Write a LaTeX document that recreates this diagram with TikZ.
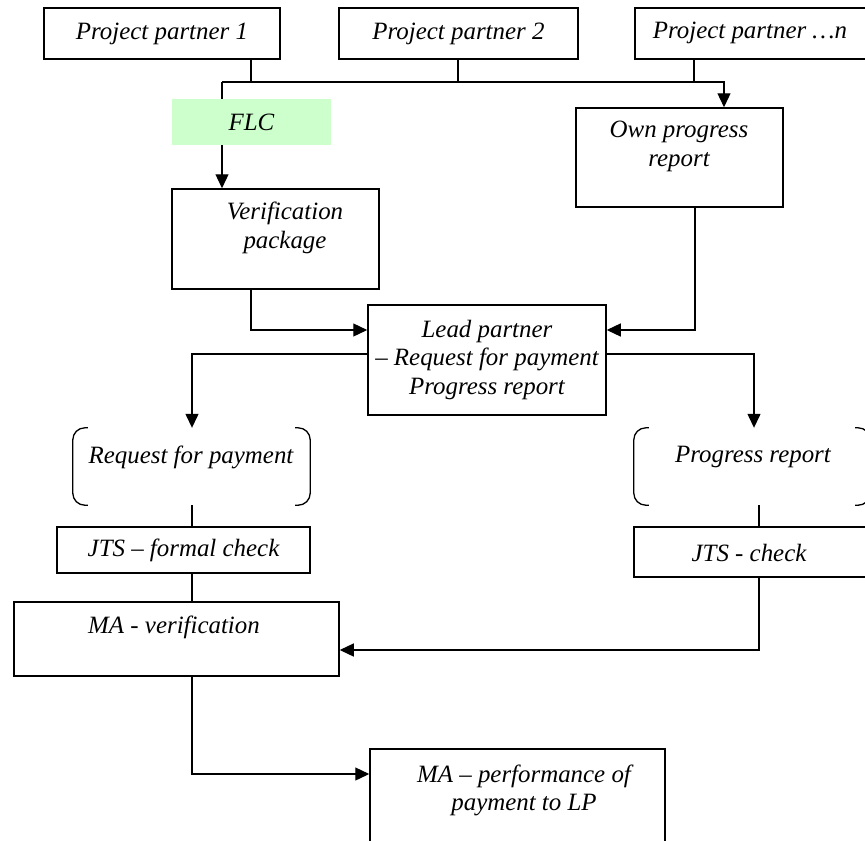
\documentclass[tikz,border=0pt]{standalone}
\usepackage{fontspec}
\setmainfont{Liberation Serif}
\usetikzlibrary{arrows.meta}
\definecolor{flcgreen}{RGB}{204,255,204}
\begin{document}
\begin{tikzpicture}[x=1bp,y=-1bp,
  box/.style={draw, line width=1.5bp, inner sep=0pt, align=center,
    font=\fontsize{25}{28.5}\selectfont\itshape},
  txt/.style={inner sep=0pt, align=center, font=\fontsize{25}{28.5}\selectfont\itshape},
  conn/.style={line width=1.3bp},
  arr/.style={conn, -{Triangle[length=14bp,width=13bp]}},
  brk/.style={line width=1.3bp, rounded corners=12bp}]
\useasboundingbox (0,0) rectangle (865,841);
\clip (0,0) rectangle (865,841);

% top boxes
\node[box, minimum width=236bp, minimum height=51bp] (pp1) at (162,33.5) {Project partner 1};
\node[box, minimum width=239bp, minimum height=51bp] (pp2) at (458.5,33.5) {Project partner 2};
\node[box, minimum width=240bp, minimum height=51bp] (ppn) at (755,33.5) {};
\node[txt] (ppnt) at (750,33) {Project partner …n};

% FLC
\node[txt, fill=flcgreen, minimum width=159bp, minimum height=46bp] (flc) at (251.5,122) {FLC};

% verification package
\node[box, minimum width=207bp, minimum height=100bp] (verif) at (275.5,239) {};
\node[txt] (verift) at (285,228) {Verification\\package};

% own progress report
\node[box, minimum width=207bp, minimum height=99bp] (own) at (679.5,157.5) {};
\node[txt] (ownt) at (679,146.5) {Own progress\\report};

% lead partner
\node[box, minimum width=238bp, minimum height=110bp] (lead) at (487,360) {Lead partner\\– Request for payment\\Progress report};

% brackets
\node[minimum width=237bp, minimum height=77bp, inner sep=0pt] (rq) at (191.5,466.5) {};
\node[txt] (rqt) at (191,457) {Request for payment};
\node[minimum width=236bp, minimum height=77bp, inner sep=0pt] (pr) at (752,466.5) {};
\node[txt] (prt) at (753,457) {Progress report};
\draw[brk] ([xshift=15bp]rq.north west) -- (rq.north west) -- (rq.south west) -- ([xshift=15bp]rq.south west);
\draw[brk] ([xshift=-15bp]rq.north east) -- (rq.north east) -- (rq.south east) -- ([xshift=-15bp]rq.south east);
\draw[brk] ([xshift=15bp]pr.north west) -- (pr.north west) -- (pr.south west) -- ([xshift=15bp]pr.south west);
\draw[brk] ([xshift=-15bp]pr.north east) -- (pr.north east) -- (pr.south east) -- ([xshift=-15bp]pr.south east);

% JTS boxes
\node[box, minimum width=253bp, minimum height=46bp] (jf) at (183.5,550) {JTS – formal check};
\node[box, minimum width=241bp, minimum height=50bp] (jc) at (754.5,552) {};
\node[txt] (jct) at (749,553) {JTS - check};

% MA verification
\node[box, minimum width=325bp, minimum height=74bp] (mav) at (176.5,639) {};
\node[txt] (mavt) at (174,627) {MA - verification};

% MA performance
\node[box, minimum width=295bp, minimum height=120bp] (map) at (517.5,809) {};
\node[txt] (mapt) at (524,790.5) {MA – performance of\\payment to LP};

% junction coordinates
\coordinate (s1) at (251,82);
\coordinate (s2) at (458,82);
\coordinate (s3) at (694,82);
\coordinate (busL) at (222,82);
\coordinate (busR) at (724,82);
\coordinate (vb) at (251,330);
\coordinate (ob) at (695,330);
\coordinate (ll) at (192,354);
\coordinate (lr) at (754,354);
\coordinate (rl) at (759,505);
\coordinate (jb) at (759,650);
\coordinate (mb) at (192,774);

% connectors
\draw[conn] (pp1.south -| s1) -- (s1);
\draw[conn] (pp2.south -| s2) -- (s2);
\draw[conn] (ppn.south -| s3) -- (s3);
\draw[arr] (busL) -- (busR) -- (own.north -| busR);
\draw[conn] (busL) -- (flc.north -| busL);
\draw[arr] (flc.south -| busL) -- (verif.north -| busL);
\draw[arr] (verif.south -| vb) -- (vb) -- (lead.west |- vb);
\draw[arr] (own.south -| ob) -- (ob) -- (lead.east |- ob);
\draw[arr] (lead.west |- ll) -- (ll) -- (rq.north -| ll);
\draw[arr] (lead.east |- lr) -- (lr) -- (pr.north -| lr);
\draw[conn] (rq.south -| ll) -- (jf.north -| ll);
\draw[conn] (pr.south -| rl) -- (jc.north -| rl);
\draw[conn] (jf.south -| ll) -- (mav.north -| ll);
\draw[arr] (jc.south -| jb) -- (jb) -- (mav.east |- jb);
\draw[arr] (mav.south -| mb) -- (mb) -- (map.west |- mb);
\end{tikzpicture}
\end{document}
